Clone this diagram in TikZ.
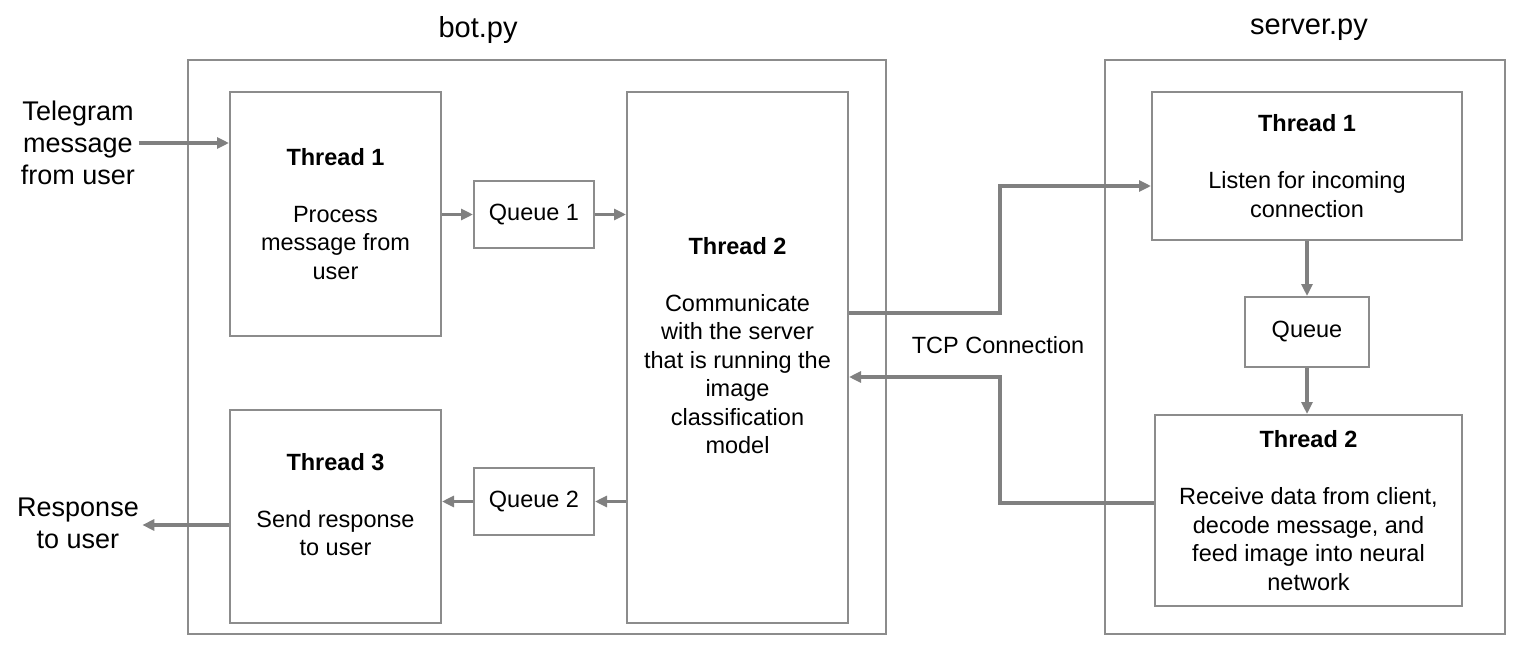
\documentclass[tikz,border=0pt]{standalone}
\usepackage{fontspec}
\setmainfont{Liberation Sans}
\usetikzlibrary{arrows.meta}

\definecolor{boxgray}{RGB}{140,140,140}
\definecolor{linegray}{RGB}{128,128,128}

\begin{document}
\begin{tikzpicture}[x=1pt,y=-1pt,
  frame/.style={draw=boxgray,line width=2pt,inner sep=0pt},
  box/.style={draw=boxgray,line width=2pt,inner sep=0pt,align=center,font=\fontsize{23.5}{28.5}\selectfont},
  flow/.style={draw=linegray,line width=3.7pt,-{Triangle[length=12pt,width=11pt]}},
  lbl/.style={align=center,font=\fontsize{27}{32}\selectfont},
  title/.style={font=\fontsize{29}{34}\selectfont}]
  \useasboundingbox (0,0) rectangle (1537,653);

  % frames
  \node (botframe) [frame,minimum width=698,minimum height=574] at (537,347) {};
  \node (serverframe) [frame,minimum width=400,minimum height=574] at (1305,347) {};
  \node (bottitle) [title] at (478,30) {bot.py};
  \node (servertitle) [title] at (1309,30) {server.py};

  % bot.py
  \node (t1) [box,minimum width=211,minimum height=244] at (335.5,214)
    {\textbf{Thread 1}\\ \\Process\\message from\\user};
  \node (q1) [box,minimum width=120,minimum height=67] at (534,214.5) {Queue 1};
  \node (t2) [box,minimum width=221,minimum height=531] at (737.5,357.5)
    {\textbf{Thread 2}\\ \\Communicate\\with the server\\that is running the\\image\\classification\\model\\[-4pt]\mbox{}};
  \node (q2) [box,minimum width=120,minimum height=67] at (534,501.5) {Queue 2};
  \node (t3) [box,minimum width=211,minimum height=213] at (335.5,516.5)
    {\textbf{Thread 3}\\ \\Send response\\to user\\[-4pt]\mbox{}};

  % server.py
  \node (st1) [box,minimum width=310,minimum height=148] at (1307,166)
    {\textbf{Thread 1}\\ \\Listen for incoming\\connection};
  \node (sq) [box,minimum width=124,minimum height=70] at (1307,332) {Queue};
  \node (st2) [box,minimum width=307,minimum height=191] at (1308.5,510.5)
    {\textbf{Thread 2}\\ \\Receive data from client,\\decode message, and\\feed image into neural\\network};

  % outside labels
  \node (tg) [lbl] at (78,143) {Telegram\\message\\from user};
  \node (resp) [lbl] at (78,523) {Response\\to user};
  \node (tcp) [font=\fontsize{23.5}{28.5}\selectfont] at (998,345) {TCP Connection};
  \coordinate (tcpup) at (1000,250);
  \coordinate (tcpdown) at (1000,440);

  \draw[flow] (tg.east) -- (tg.east -| t1.west);
  \draw[flow] (t1.east |- q1.west) -- (q1.west);
  \draw[flow] (q1.east) -- (q1.east -| t2.west);
  \draw[flow] (t2.west |- q2.east) -- (q2.east);
  \draw[flow] (q2.west) -- (q2.west -| t3.east);
  \draw[flow] ([yshift=-2pt]t3.west |- resp.east) -- ([yshift=-2pt]resp.east);

  \draw[flow] ([yshift=44.5pt]t2.east) -| (tcpup) |- ([yshift=-20pt]st1.west);
  \draw[flow] ([yshift=7.5pt]st2.west) -| (tcpdown) |- ([yshift=-19.5pt]t2.east);

  \draw[flow] (st1.south) -- (sq.north);
  \draw[flow] (sq.south) -- (sq.south |- st2.north);
\end{tikzpicture}
\end{document}
